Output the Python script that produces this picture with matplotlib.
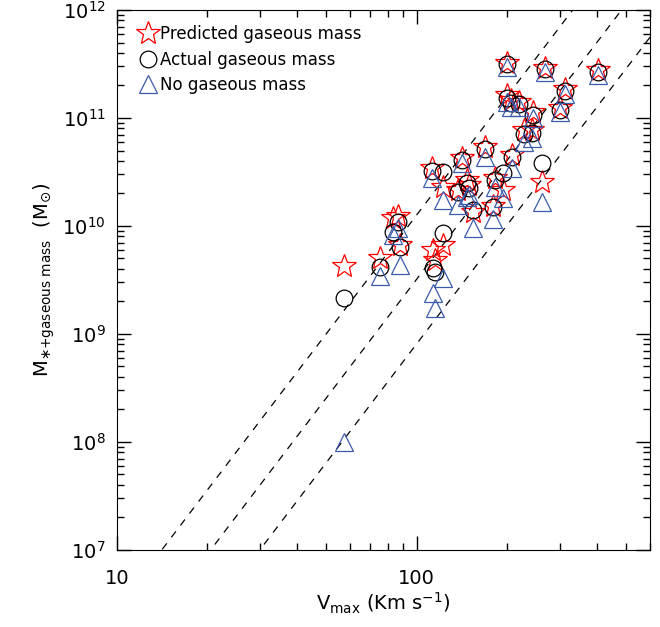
import numpy as np
import matplotlib
matplotlib.use("Agg")
import matplotlib.pyplot as plt
from matplotlib.ticker import LogLocator, NullFormatter, FuncFormatter

# galaxies: Vmax and mass estimates
vmax = [57.1, 75.3, 83.2, 86.4, 87.8, 113.0, 114.8, 122.0, 112.2, 122.0,
        142.0, 168.5, 137.0, 146.8, 149.0, 153.7, 179.0, 182.0, 193.6, 207.4,
        227.5, 241.7, 243.6, 220.0, 199.5, 205.7, 199.5, 267.0, 311.0, 300.0,
        401.0, 261.0]
m_pred = [4.27e9, 5.06e9, 1.19e10, 1.24e10, 6.67e9, 6.0e9, 4.84e9, 6.67e9, 3.44e10, 2.3e10,
          4.27e10, 5.38e10, 2.15e10, 2.67e10, 2.4e10, 1.35e10, 1.53e10, 2.78e10, 2.15e10, 4.54e10,
          7.74e10, 7.74e10, 1.14e11, 1.41e11, 1.63e11, 1.47e11, 3.23e11, 2.9e11, 1.86e11, 1.24e11,
          2.78e11, 2.55e10]
m_act = [2.15e9, 4.17e9, 8.79e9, 1.09e10, 6.4e9, 4.08e9, 3.75e9, 8.6e9, 3.23e10, 3.16e10,
         4.08e10, 5.16e10, 2.07e10, 2.5e10, 2.25e10, 1.41e10, 1.5e10, 2.67e10, 3.1e10, 4.35e10,
         7.11e10, 7.26e10, 1.07e11, 1.35e11, 1.53e11, 1.38e11, 3.16e11, 2.85e11, 1.78e11, 1.19e11,
         2.67e11, 3.83e10]
m_none = [1.0e8, 3.44e9, 8.26e9, 9.57e9, 4.35e9, 2.4e9, 1.74e9, 3.3e9, 2.78e10, 1.74e10,
          3.83e10, 4.35e10, 1.56e10, 1.86e10, 1.94e10, 9.57e9, 1.16e10, 2.3e10, 1.82e10, 3.44e10,
          6.0e10, 6.53e10, 1.0e11, 1.26e11, 1.41e11, 1.26e11, 2.97e11, 2.67e11, 1.67e11, 1.14e11,
          2.5e11, 1.67e10]

# reference lines: log M = 7 + slope * (log V - log V0)
slope = 3.65
logv0 = [1.15, 1.313, 1.477]

fig = plt.figure(figsize=(6.6, 6.27), dpi=100)
ax = fig.add_axes([0.177, 0.123, 0.808, 0.861])

vv = np.logspace(1, np.log10(600), 200)
for v0 in logv0:
    ax.plot(vv, 10 ** (7 + slope * (np.log10(vv) - v0)), ls=(0, (6, 6)),
            color="black", lw=0.9)

ax.plot(vmax, m_pred, ls="none", marker="*", ms=18, mfc="none", mec="red",
        mew=0.9, label="Predicted gaseous mass")
ax.plot(vmax, m_act, ls="none", marker="o", ms=12, mfc="none", mec="black",
        mew=0.9, label="Actual gaseous mass")
ax.plot(vmax, m_none, ls="none", marker="^", ms=13, mfc="none", mec="#3a5cab",
        mew=0.9, label="No gaseous mass")

ax.set_xscale("log")
ax.set_yscale("log")
ax.set_xlim(10, 600)
ax.set_ylim(1e7, 1e12)

ax.xaxis.set_major_locator(LogLocator(base=10))
ax.xaxis.set_major_formatter(FuncFormatter(lambda v, p: f"{v:g}"))
ax.xaxis.set_minor_locator(LogLocator(base=10, subs=np.arange(2, 10)))
ax.xaxis.set_minor_formatter(NullFormatter())
ax.yaxis.set_minor_locator(LogLocator(base=10, subs=np.arange(2, 10)))
ax.yaxis.set_minor_formatter(NullFormatter())
ax.tick_params(which="both", direction="in", top=True, right=True, labelsize=14)
ax.tick_params(which="major", length=10, width=1)
ax.tick_params(which="minor", length=5, width=1)
ax.tick_params(axis="x", pad=14)
ax.tick_params(axis="y", pad=8)

ax.set_xlabel(r"V$_{\rm max}$ (Km s$^{-1}$)", fontsize=14, labelpad=2)
ax.set_ylabel(r"M$_{\ast\rm{+gaseous\ mass}}$  (M$_{\odot}$)", fontsize=14, labelpad=4)

ax.legend(loc="upper left", bbox_to_anchor=(0.015, 1.0), frameon=False,
          fontsize=12, handlelength=1.0, handletextpad=0.2, labelspacing=0.45,
          borderaxespad=0.5)

fig.savefig("out.png", dpi=100)
